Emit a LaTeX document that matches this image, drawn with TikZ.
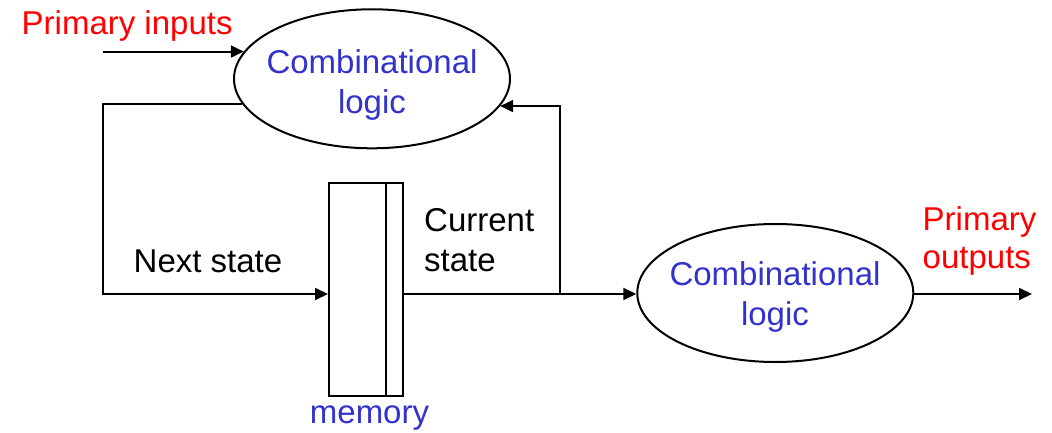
\documentclass[tikz,border=0pt]{standalone}
\usepackage{fontspec}
\setmainfont{Liberation Sans}
\usetikzlibrary{arrows.meta,shapes.geometric}
\definecolor{sigred}{RGB}{255,0,0}
\definecolor{logicblue}{RGB}{51,51,204}
\begin{document}
\begin{tikzpicture}[x=1pt,y=-1pt,
  wire/.style={line width=2pt},
  arrowwire/.style={wire,-{Triangle[length=13pt,width=12pt]}},
  blob/.style={draw,ellipse,line width=2pt,minimum width=276pt,minimum height=139pt,inner sep=0pt},
  membox/.style={draw,rectangle,line width=2pt,minimum width=74pt,minimum height=213pt,inner sep=0pt},
  txt/.style={font=\fontsize{33}{40}\selectfont,inner sep=0pt}]
\useasboundingbox (0,0) rectangle (1052,433);

% logic blocks and the state register
\node[blob] (e1) at (372,78.8) {};
\node[blob,minimum height=138pt] (e2) at (775.3,293) {};
\node[membox] (mem) at (366,289.5) {};
\draw[line width=1.5pt] ([xshift=-18pt]mem.north east) -- ([xshift=-18pt]mem.south east);

% labels
\node[txt,logicblue,align=center] (e1t) at (372,85) {Combinational\\logic};
\node[txt,logicblue,align=center] (e2t) at (775,297) {Combinational\\logic};
\node[txt,sigred,anchor=base west] (pin) at (21.5,35) {Primary inputs};
\node[txt,sigred,align=left,anchor=west,font=\fontsize{33}{38}\selectfont] (pout) at (922.5,240.75) {Primary\\outputs};
\node[txt,anchor=base west] (ns) at (133.5,272) {Next state};
\node[txt,align=left,anchor=west] (cs) at (424,240.3) {Current\\state};
\node[txt,logicblue,anchor=base] (memlbl) at (369.5,423) {memory};

% wiring points
\coordinate (src) at (103,0);
\coordinate (lc) at (103,294);
\coordinate (tap) at (560,294);
\coordinate (sink) at (1032,294);

% connections
\draw[arrowwire] (src |- e1.168.6) -- (e1.168.6);
\draw[arrowwire] (e1.191.6) -| (lc) -- (mem.west |- lc);
\draw[arrowwire] (mem.east |- tap) -- (e2.west |- tap);
\draw[arrowwire] (tap) |- (e1.348.4);
\draw[arrowwire] (e2.east |- sink) -- (sink);
\end{tikzpicture}
\end{document}
